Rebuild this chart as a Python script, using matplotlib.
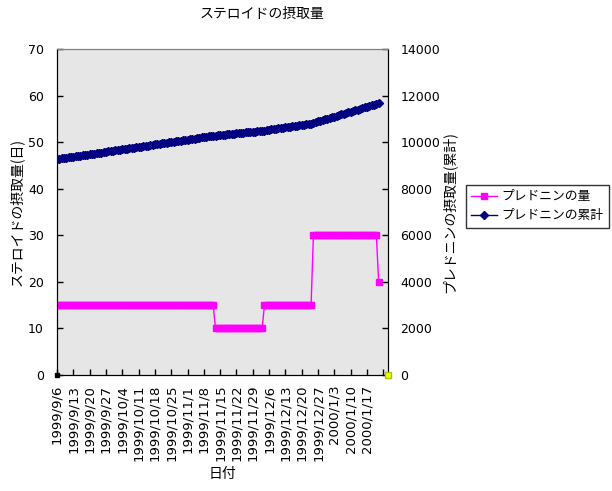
import numpy as np
import matplotlib
matplotlib.use("Agg")
import matplotlib.pyplot as plt

plt.rcParams['font.family'] = ['Noto Sans CJK JP', 'DejaVu Sans']

# daily dose (left axis), one value per day starting 1999/9/6
dose = [
    15, 15, 15, 15, 15, 15, 15,
    15, 15, 15, 15, 15, 15, 15,
    15, 15, 15, 15, 15, 15, 15,
    15, 15, 15, 15, 15, 15, 15,
    15, 15, 15, 15, 15, 15, 15,
    15, 15, 15, 15, 15, 15, 15,
    15, 15, 15, 15, 15, 15, 15,
    15, 15, 15, 15, 15, 15, 15,
    15, 15, 15, 15, 15, 15, 15,
    15, 15, 15, 15, 15, 10, 10,
    10, 10, 10, 10, 10, 10, 10,
    10, 10, 10, 10, 10, 10, 10,
    10, 10, 10, 10, 10, 15, 15,
    15, 15, 15, 15, 15, 15, 15,
    15, 15, 15, 15, 15, 15, 15,
    15, 15, 15, 15, 15, 30, 30,
    30, 30, 30, 30, 30, 30, 30,
    30, 30, 30, 30, 30, 30, 30,
    30, 30, 30, 30, 30, 30, 30,
    30, 30, 30, 30, 30, 20,
]

# cumulative amount (right axis)
total = [
    9270, 9285, 9300, 9315, 9330, 9345, 9360,
    9375, 9390, 9405, 9420, 9435, 9450, 9465,
    9480, 9495, 9510, 9525, 9540, 9555, 9570,
    9585, 9600, 9615, 9630, 9645, 9660, 9675,
    9690, 9705, 9720, 9735, 9750, 9765, 9780,
    9795, 9810, 9825, 9840, 9855, 9870, 9885,
    9900, 9915, 9930, 9945, 9960, 9975, 9990,
    10005, 10020, 10035, 10050, 10065, 10080, 10095,
    10110, 10125, 10140, 10155, 10170, 10185, 10200,
    10215, 10230, 10245, 10260, 10275, 10285, 10295,
    10305, 10315, 10325, 10335, 10345, 10355, 10365,
    10375, 10385, 10395, 10405, 10415, 10425, 10435,
    10445, 10455, 10465, 10475, 10485, 10500, 10515,
    10530, 10545, 10560, 10575, 10590, 10605, 10620,
    10635, 10650, 10665, 10680, 10695, 10710, 10725,
    10740, 10755, 10770, 10785, 10800, 10830, 10860,
    10890, 10920, 10950, 10980, 11010, 11040, 11070,
    11100, 11130, 11160, 11190, 11220, 11250, 11280,
    11310, 11340, 11370, 11400, 11430, 11460, 11490,
    11520, 11550, 11580, 11610, 11640, 11660,
]

week_labels = [
    '1999/9/6', '1999/9/13', '1999/9/20', '1999/9/27', '1999/10/4',
    '1999/10/11', '1999/10/18', '1999/10/25', '1999/11/1', '1999/11/8',
    '1999/11/15', '1999/11/22', '1999/11/29', '1999/12/6', '1999/12/13',
    '1999/12/20', '1999/12/27', '2000/1/3', '2000/1/10', '2000/1/17', '',
]
n_days = 143  # categories on the axis

days = np.arange(len(dose))

fig = plt.figure(figsize=(6.12, 4.91), dpi=100)
ax1 = fig.add_axes([57/612, 1 - 375/491, 331/612, 326/491])
ax2 = ax1.twinx()

ax1.set_facecolor('#e6e6e6')

ax1.plot(days, dose, color='#ff00ff', lw=1, marker='s', ms=4.3,
         mec='#ff00ff', mfc='#ff00ff', label='プレドニンの量', zorder=3)
ax2.plot(days, total, color='#000080', lw=1, marker='D', ms=3.8,
         mec='#000080', mfc='#000080', label='プレドニンの累計', zorder=3)
# two stray one-point series at the axis corners
ax1.plot([0], [0], marker='s', ms=3.5, color='black', ls='none', clip_on=False, zorder=5)
ax2.plot([n_days - 1], [0], marker='s', ms=4, mfc='#ffff00', mec='#99cc00',
         ls='none', clip_on=False, zorder=5)

ax1.set_xlim(0, n_days - 1)
ax1.set_ylim(0, 70)
ax2.set_ylim(0, 14000)
ax1.set_yticks(range(0, 71, 10))
ax2.set_yticks(range(0, 14001, 2000))
ax1.set_xticks(range(0, 141, 7))
ax1.set_xticklabels(week_labels, rotation=90, fontsize=9.5, family='DejaVu Sans')
for lab in ax1.get_yticklabels() + ax2.get_yticklabels():
    lab.set_family('DejaVu Sans')

ax1.tick_params(axis='y', direction='in', length=4, width=1, labelsize=9, pad=9.5)
ax2.tick_params(axis='y', direction='in', length=4, width=1, labelsize=9, pad=9)
ax1.tick_params(axis='x', direction='in', length=4, width=1, pad=7)

ax1.spines['top'].set_color('#808080')
ax2.spines['top'].set_color('#808080')
for ax in (ax1, ax2):
    ax.spines['left'].set_color('black')
    ax.spines['right'].set_color('black')
    ax.spines['bottom'].set_color('black')

ax1.set_ylabel('ステロイドの摂取量(日)', fontsize=10, labelpad=3)
ax2.set_ylabel('プレドニンの摂取量(累計)', fontsize=10, labelpad=1)
ax1.set_xlabel('日付', fontsize=10, labelpad=4)
fig.text(262/612, 1 - 14/491, 'ステロイドの摂取量', ha='center', va='center', fontsize=10)

h1, l1 = ax1.get_legend_handles_labels()
h2, l2 = ax2.get_legend_handles_labels()
leg = fig.legend(h1[:1] + h2[:1], l1[:1] + l2[:1], loc='upper left',
                 bbox_to_anchor=(466/612, 1 - 185/491), fontsize=9.2,
                 frameon=True, fancybox=False, edgecolor='black',
                 borderpad=0.4, handlelength=2.0, labelspacing=0.5,
                 handletextpad=0.4, borderaxespad=0)
leg.get_frame().set_linewidth(1)

fig.savefig('out.png', dpi=100)
